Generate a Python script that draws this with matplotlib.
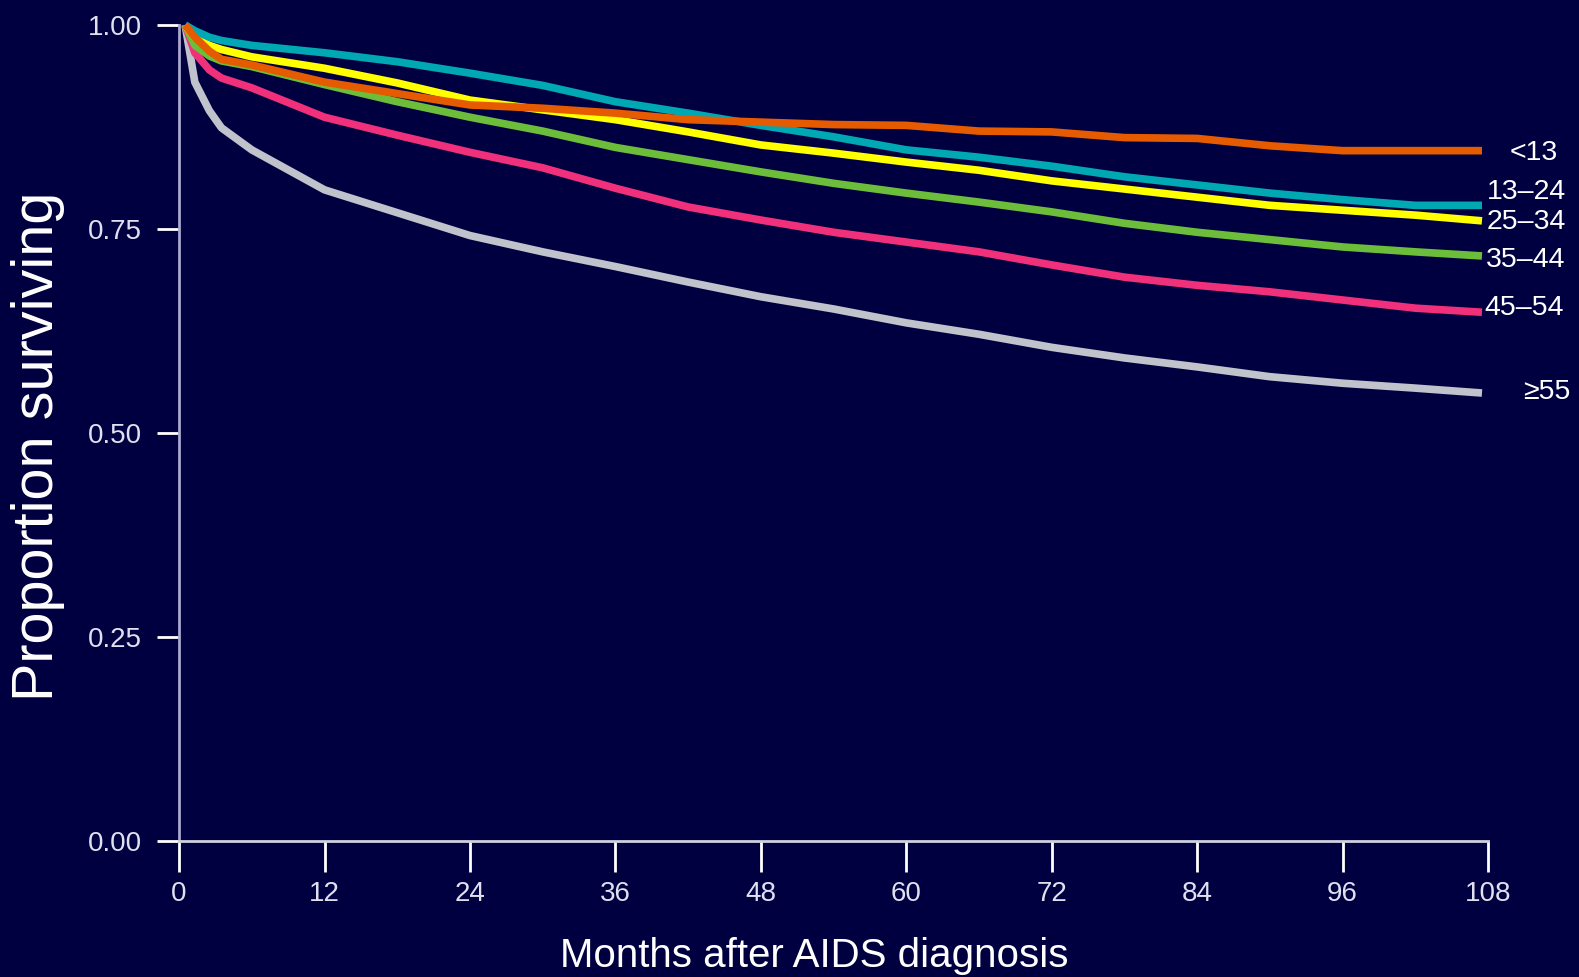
import matplotlib.pyplot as plt

# months after diagnosis
months = [0.5, 1.3, 2.5, 3.5, 6, 12, 18, 24, 30, 36, 42, 48, 54, 60, 66, 72, 78, 84, 90, 96, 102, 107.5]

age_lt13 = [1.0, 0.985, 0.968, 0.958, 0.951, 0.930, 0.916, 0.902, 0.898, 0.892, 0.884, 0.881,
            0.878, 0.877, 0.870, 0.869, 0.862, 0.861, 0.852, 0.846, 0.846, 0.846]
age_13_24 = [1.0, 0.993, 0.985, 0.981, 0.975, 0.966, 0.955, 0.941, 0.926, 0.906, 0.892, 0.877,
             0.863, 0.847, 0.838, 0.827, 0.814, 0.804, 0.794, 0.786, 0.779, 0.779]
age_25_34 = [1.0, 0.985, 0.975, 0.970, 0.961, 0.947, 0.929, 0.908, 0.896, 0.884, 0.869, 0.853,
             0.843, 0.832, 0.822, 0.809, 0.799, 0.789, 0.779, 0.773, 0.767, 0.760]
age_35_44 = [1.0, 0.975, 0.962, 0.956, 0.949, 0.927, 0.906, 0.887, 0.870, 0.850, 0.835, 0.820,
             0.806, 0.794, 0.783, 0.771, 0.757, 0.746, 0.737, 0.728, 0.722, 0.717]
age_45_54 = [1.0, 0.966, 0.945, 0.935, 0.923, 0.887, 0.865, 0.844, 0.825, 0.800, 0.777, 0.761,
             0.746, 0.734, 0.722, 0.706, 0.691, 0.681, 0.673, 0.663, 0.653, 0.648]
age_ge55 = [1.0, 0.930, 0.895, 0.874, 0.847, 0.798, 0.770, 0.742, 0.722, 0.704, 0.685, 0.667,
            0.652, 0.635, 0.621, 0.605, 0.592, 0.581, 0.569, 0.561, 0.555, 0.549]

labels = ["<13", "13\u201324", "25\u201334", "35\u201344", "45\u201354", "\u226555"]
label_x = [109.8, 107.9, 107.9, 107.8, 107.7, 110.9]
label_y = [0.843, 0.795, 0.759, 0.712, 0.653, 0.550]

bg = "#000040"
plt.rcParams['font.family'] = ['Liberation Sans', 'DejaVu Sans']

fig = plt.figure(figsize=(15.79, 9.77), dpi=100, facecolor=bg)
ax = fig.add_axes([0.1134, 0.1392, 0.829, 0.8352], facecolor=bg)

series = [
    (age_lt13, "#E65A00"),
    (age_13_24, "#00A8B4"),
    (age_25_34, "#FFFF00"),
    (age_35_44, "#6CBE3A"),
    (age_45_54, "#F0307A"),
    (age_ge55, "#C0C3CB"),
]
# draw from bottom group to top so upper curves overlay
for vals, col in reversed(series):
    ax.plot(months, vals, color=col, lw=5.5, clip_on=False, solid_capstyle='butt')

for lab, lx, ly in zip(labels, label_x, label_y):
    ax.text(lx, ly, lab, color="white", fontsize=20.5, va='center', ha='left', clip_on=False)

ax.set_xlim(0, 108)
ax.set_ylim(0, 1)
ax.set_xticks(range(0, 109, 12))
ax.set_yticks([0, 0.25, 0.5, 0.75, 1.0])
ax.set_yticklabels(["0.00", "0.25", "0.50", "0.75", "1.00"])

for s in ["top", "right"]:
    ax.spines[s].set_visible(False)
ax.spines["left"].set_color("#A8A8D0")
ax.spines["left"].set_linewidth(2)
ax.spines["bottom"].set_color("#D0D0E0")
ax.spines["bottom"].set_linewidth(2)

ax.tick_params(axis='y', colors="white", length=16, width=2, pad=11, labelsize=20)
ax.tick_params(axis='x', colors="white", length=22, width=2, pad=7, labelsize=20)
for t in ax.get_xticklabels() + ax.get_yticklabels():
    t.set_color("#E0E0F0")

fig.text(0.5155, 0.010, "Months after AIDS diagnosis", color="white", fontsize=29,
         ha='center', va='baseline')
fig.text(0.024, 0.543, "Proportion surviving", color="white", fontsize=41.5,
         rotation=90, ha='center', va='center')

fig.savefig("out.png", dpi=100, facecolor=bg)
